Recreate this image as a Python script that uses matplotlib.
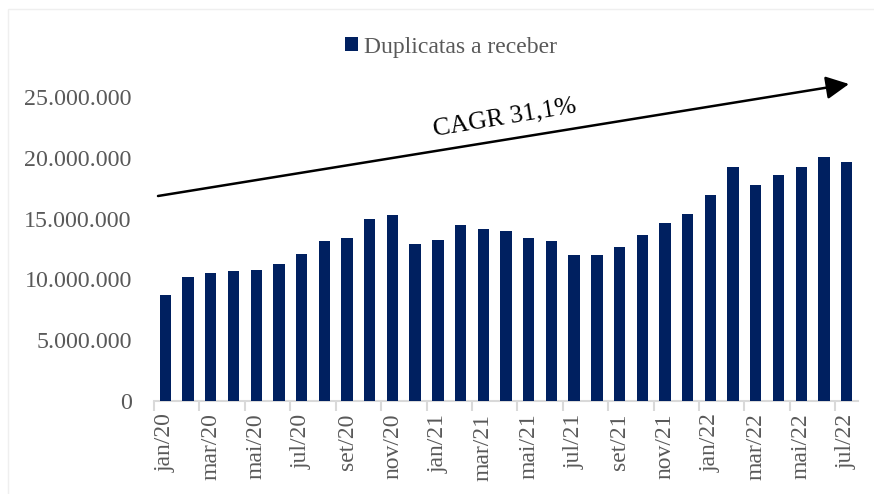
import matplotlib
matplotlib.use("Agg")
import matplotlib.pyplot as plt
from matplotlib.patches import Rectangle, FancyArrowPatch

months = ["jan", "fev", "mar", "abr", "mai", "jun", "jul", "ago", "set", "out", "nov", "dez"]
categories = [f"{m}/{y}" for y in ["20", "21"] for m in months] + [f"{m}/22" for m in months[:7]]
values = [
    8.72, 10.17, 10.50, 10.71, 10.80, 11.29, 12.10, 13.18, 13.40, 14.97, 15.27, 12.88,
    13.24, 14.44, 14.17, 13.98, 13.40, 13.16, 12.03, 12.00, 12.69, 13.62, 14.66, 15.35,
    16.91, 19.24, 17.79, 18.56, 19.24, 20.09, 19.68,
]
values = [v * 1_000_000 for v in values]
series_name = "Duplicatas a receber"
y_ticks = [0, 5_000_000, 10_000_000, 15_000_000, 20_000_000, 25_000_000]
cagr_label = "CAGR 31,1%"

plt.rcParams["font.family"] = ["Liberation Serif", "DejaVu Serif"]
W, H = 874, 494
fig = plt.figure(figsize=(W / 100, H / 100), dpi=100)
ax = fig.add_axes([154 / W, (H - 401) / H, (858 - 154) / W, (401 - 97) / H])

x = list(range(len(categories)))
bars = ax.bar(x, values, width=0.5, color="#002060", label=series_name, zorder=3)

ax.set_xlim(-0.5, len(categories) - 0.5)
ax.set_ylim(0, 25_000_000)
ax.set_yticks(y_ticks)
ax.set_yticklabels([f"{v:,}".replace(",", ".") for v in y_ticks])
ax.tick_params(axis="y", length=0, pad=16, labelsize=17.3, labelcolor="#595959")

ax.set_xticks(x[::2])
ax.set_xticklabels(categories[::2], rotation=90, fontsize=17, color="#595959")
ax.set_xticks([i - 0.5 for i in x[::2]], minor=True)
ax.tick_params(axis="x", which="major", length=0, pad=9)
ax.tick_params(axis="x", which="minor", length=7, width=1.5, color="#D9D9D9")

for s in ["top", "right", "left"]:
    ax.spines[s].set_visible(False)
ax.spines["bottom"].set_color("#D9D9D9")
ax.spines["bottom"].set_linewidth(1.5)

leg = fig.legend(handles=[bars], labels=[series_name], loc="center",
                 bbox_to_anchor=(451 / W, (H - 47) / H), frameon=False,
                 fontsize=17, handlelength=0.55, handleheight=0.55,
                 handletextpad=0.25, labelcolor="#595959")

# trend arrow (figure pixel coordinates)
fig.patches.append(FancyArrowPatch(
    (158 / W, (H - 196) / H), (849 / W, (H - 84) / H),
    transform=fig.transFigure, arrowstyle="-|>,head_length=1.0,head_width=0.5",
    mutation_scale=14, color="black", linewidth=1.8, shrinkA=0, shrinkB=0))
fig.text(505 / W, (H - 118) / H, cagr_label, rotation=9.5, ha="center", va="center",
         fontsize=18.5, color="black", rotation_mode="anchor")

# chart area border
fig.patches.append(Rectangle((8 / W, -0.01), 1.0, (H - 9) / H + 0.01,
                             transform=fig.transFigure, fill=False,
                             edgecolor="#EFEFEF", linewidth=1.0))

fig.savefig("out.png", dpi=100)
